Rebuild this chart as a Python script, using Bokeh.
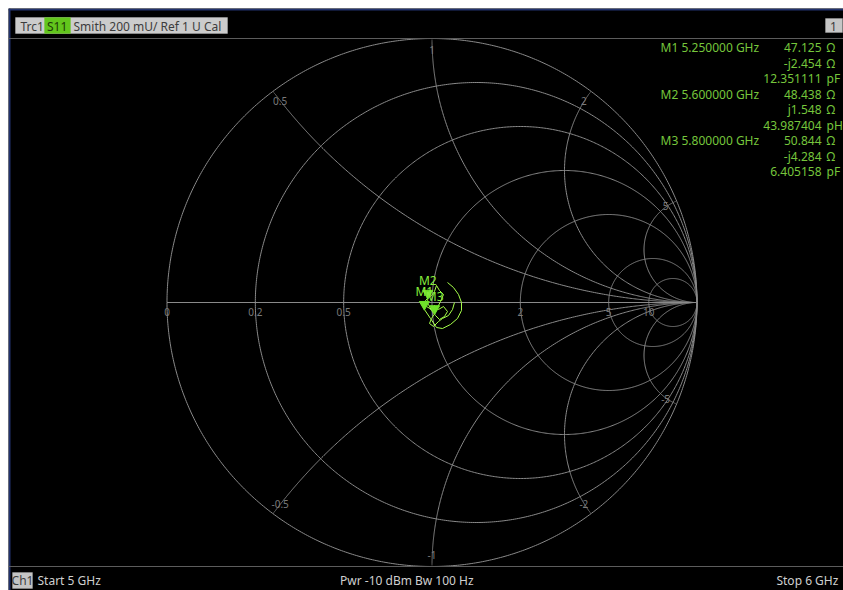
import numpy as np
from bokeh.plotting import figure
from bokeh.models import Range1d, Label, BoxAnnotation, Span
from bokeh.core.properties import value
from bokeh.embed import file_html
from bokeh.resources import INLINE

# ---------------- data ----------------
r_circles = [0.2, 0.5, 1, 2, 5, 10]          # constant-resistance circles
x_arcs = [0.5, 1, 2, 5]                       # constant-reactance arcs (+/-)

# S11 trace (reflection coefficient, real / imaginary), 5 GHz .. 6 GHz
s11_re = [0.0585, 0.0811, 0.1000, 0.1113, 0.1113, 0.0962, 0.0698, 0.0396, 0.0170, -0.0057,
          -0.0289, -0.0396, -0.0208, -0.0019, 0.0094, 0.0245, 0.0434, 0.0585, 0.0472, 0.0283,
          0.0132, -0.0019, -0.0132, -0.0245, -0.0156, -0.0019, 0.0094, 0.0170, 0.0283, 0.0434,
          0.0321, 0.0208, 0.0102, -0.0019, -0.0094, 0.0057, 0.0245, 0.0396, 0.0623, 0.0774,
          0.0849]
s11_im = [0.0758, 0.0568, 0.0303, 0.0000, -0.0303, -0.0606, -0.0833, -0.0985, -0.0947, -0.0606,
          -0.0260, -0.0038, -0.0152, -0.0265, -0.0114, -0.0265, -0.0152, -0.0341, -0.0530, -0.0644,
          -0.0492, -0.0303, -0.0076, 0.0076, 0.0160, 0.0265, 0.0417, 0.0644, 0.0455, 0.0303,
          0.0038, -0.0189, -0.0421, -0.0606, -0.0795, -0.0909, -0.0720, -0.0606, -0.0492, -0.0265,
          0.0000]

marker_names = ["M1", "M2", "M3"]
marker_freq_ghz = [5.25, 5.60, 5.80]
marker_r_ohm = [47.125, 48.438, 50.844]
marker_x_ohm = [-2.454, 1.548, -4.284]
marker_equiv = [12.351111, 43.987404, 6.405158]
marker_equiv_unit = ["pF", "pH", "pF"]
z0 = 50.0

# ---------------- layout ----------------
W, H = 843, 590
OFF = 8                                        # white strip at top / left
CX, CY, RX, RY = 431.5, 302.0, 265.0, 264.0   # page position / scale of the unit circle


def gx(px):
    return (px - CX) / RX


def gy(py):
    return (CY - py) / RY


FONT = "Noto Sans"
GRID = "#8a8a8a"
GREEN_TXT = "#76c63c"
BLUE = "#22336e"

p = figure(width=W, height=H, x_range=Range1d(gx(OFF), gx(W)),
           y_range=Range1d(gy(H), gy(OFF)),
           output_backend="svg", toolbar_location=None,
           min_border_left=OFF, min_border_top=OFF, min_border_right=0, min_border_bottom=0,
           x_axis_location=None, y_axis_location=None,
           background_fill_color="black", border_fill_color="white",
           outline_line_color=None)
p.grid.visible = False

# frame edges and header / footer separators
p.add_layout(Span(location=gx(OFF + 1), dimension="height", line_color=BLUE, line_width=2))
p.add_layout(Span(location=gy(OFF + 1), dimension="width", line_color=BLUE, line_width=2))
p.add_layout(Span(location=gy(38), dimension="width", line_color="#5c5c5c", line_width=1))
p.add_layout(Span(location=gy(566), dimension="width", line_color="#5c5c5c", line_width=1))

# ---------------- Smith grid ----------------
t = np.linspace(0, 2 * np.pi, 721)
xs, ys = [list(np.cos(t))], [list(np.sin(t))]
for r in r_circles:
    c, rad = r / (1 + r), 1 / (1 + r)
    xs.append(list(c + rad * np.cos(t)))
    ys.append(list(rad * np.sin(t)))
rr = np.concatenate([[0.0], np.logspace(-3, 4, 700)])
for xv in x_arcs:
    for s in (1, -1):
        g = (rr + 1j * s * xv - 1) / (rr + 1j * s * xv + 1)
        xs.append(list(g.real))
        ys.append(list(g.imag))
xs.append([-1, 1])
ys.append([0, 0])
p.multi_line(xs, ys, line_color=GRID, line_width=1)

# real-axis labels
rl = [0] + r_circles
p.text(x=[(r - 1) / (r + 1) for r in rl], y=[0] * len(rl), text=[f"{r:g}" for r in rl],
       text_align="center", text_baseline="top", y_offset=5,
       text_font_size="10px", text_color="#7a7a7a", text_font=value(FONT))

# reactance labels
lx, ly, lt = [], [], []
for xv in x_arcs:
    for s in (1, -1):
        d = xv * xv + 1
        lx.append(0.955 * (xv * xv - 1) / d)
        ly.append(0.955 * 2 * s * xv / d)
        lt.append(f"{s * xv:g}")
p.text(x=lx, y=ly, text=lt, text_align="center", text_baseline="middle",
       text_font_size="10px", text_color="#7a7a7a", text_font=value(FONT))

# ---------------- trace ----------------
p.line(s11_re, s11_im, line_color="#a6ff4a", line_width=1)

zm = (np.array(marker_r_ohm) + 1j * np.array(marker_x_ohm)) / z0
gm = (zm - 1) / (zm + 1)
p.scatter(gm.real, gm.imag + 5 / RY, marker="inverted_triangle", size=10,
          fill_color="#6fe22a", line_color="#6fe22a")
p.text(x=gm.real, y=gm.imag, text=marker_names, text_align="center", text_baseline="bottom",
       y_offset=-9, text_font_size="12px", text_color="#86ee3c", text_font=value(FONT))


# ---------------- annotation texts ----------------
def lab(txt, px, py, color, size="12px", align="left", baseline="middle"):
    p.add_layout(Label(x=gx(px), y=gy(py), text=txt, text_color=color, text_font_size=size,
                       text_align=align, text_baseline=baseline, text_font=FONT))


def box(l, r, t_, b, color, line=None):
    p.add_layout(BoxAnnotation(left=gx(l), right=gx(r), top=gy(t_), bottom=gy(b),
                               fill_color=color, fill_alpha=1.0,
                               line_color=line if line else color, line_width=1))


# header
box(15, 227, 17, 33, "#cccccc", "#dedede")
box(44, 70, 17, 33, "#62c61c")
lab("Trc1", 20, 25.5, "#3c3c3c")
lab("S11", 46.5, 25.5, "#1d3a06")
lab("Smith  200 mU/ Ref 1 U  Cal", 73, 25.5, "#3c3c3c")
box(825, 842, 18, 32, "#c6c6c6")
lab("1", 833, 25.5, "#3c3c3c", align="center")

# marker table
row_h = 15.5
for k, name in enumerate(marker_names):
    y0 = 47 + 3 * k * row_h
    lab(name, 660, y0, GREEN_TXT)
    lab(f"{marker_freq_ghz[k]:.6f} GHz", 681, y0, GREEN_TXT)
    lab(f"{marker_r_ohm[k]:.3f}", 821, y0, GREEN_TXT, align="right")
    lab("\u03a9", 826, y0, GREEN_TXT)
    xv = marker_x_ohm[k]
    lab(f"{'-' if xv < 0 else ''}j{abs(xv):.3f}", 821, y0 + row_h, GREEN_TXT, align="right")
    lab("\u03a9", 826, y0 + row_h, GREEN_TXT)
    lab(f"{marker_equiv[k]:.6f}", 821, y0 + 2 * row_h, GREEN_TXT, align="right")
    lab(marker_equiv_unit[k], 826, y0 + 2 * row_h, GREEN_TXT)

# footer
box(12, 32, 572, 588, "#c4c4c4")
lab("Ch1", 22, 580, "#3c3c3c", align="center")
lab("Start  5 GHz", 37, 580, "#cfcfcf")
lab("Pwr  -10 dBm  Bw  100 Hz", 411, 580, "#cfcfcf", align="center")
lab("Stop  6 GHz", 841, 580, "#cfcfcf", align="right")

open("out.html", "w").write(file_html(p, INLINE))
